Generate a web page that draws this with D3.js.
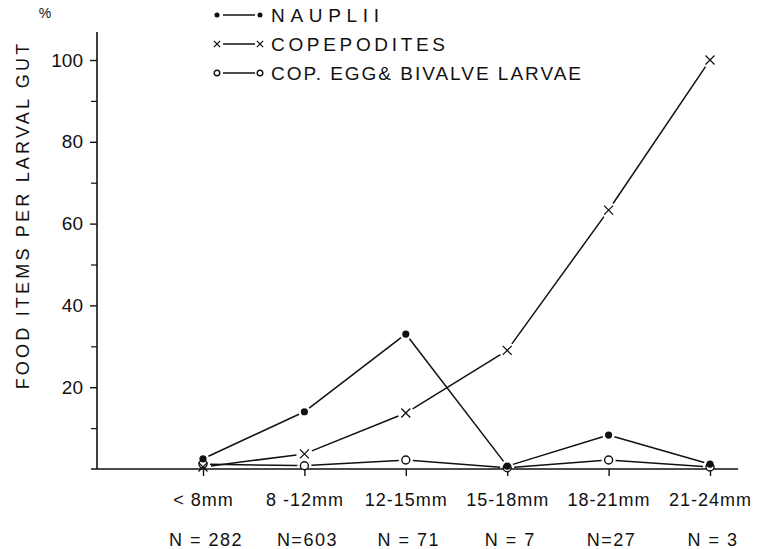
<!DOCTYPE html>
<html>
<head>
<meta charset="utf-8">
<script src="https://cdn.jsdelivr.net/npm/d3@7"></script>
<style>
  html, body { margin: 0; padding: 0; background: #fff; }
  svg { display: block; }
  text { font-family: "Liberation Sans", "DejaVu Sans", sans-serif; fill: #111; }
</style>
</head>
<body>
<svg id="chart" width="770" height="549"></svg>
<script>
// Size classes of the larvae and the number of guts examined in each
const sizeClasses = ["< 8mm", "8 -12mm", "12-15mm", "15-18mm", "18-21mm", "21-24mm"];
const sampleSizes = ["N = 282", "N=603", "N = 71", "N = 7", "N=27", "N = 3"];

// Percentage of food items per larval gut
const nauplii     = [2.5, 14, 33, 0.7, 8.3, 1.2];
const copepodites = [0.5, 3.7, 13.7, 29, 63.3, 100];
const eggBivalve  = [1.2, 0.8, 2.2, 0.3, 2.2, 0.5];

const yMajorTicks = [20, 40, 60, 80, 100];
const yMinorTicks = [10, 30, 50, 70, 90];

const seriesNames = ["NAUPLII", "COPEPODITES", "COP. EGG& BIVALVE LARVAE"];

const svg = d3.select("#chart");
const ink = "#111";

const x = d3.scalePoint().domain(sizeClasses).range([203, 710]);
const y = d3.scaleLinear().domain([0, 100]).range([469, 60]);

// Axes
const axisG = svg.append("g");
axisG.append("line")
  .attr("x1", 97).attr("x2", 97)
  .attr("y1", 32).attr("y2", y(0))
  .attr("stroke", ink).attr("stroke-width", 1.6);
axisG.append("line")
  .attr("x1", 91).attr("x2", 738)
  .attr("y1", y(0)).attr("y2", y(0))
  .attr("stroke", ink).attr("stroke-width", 1.6);

const yAxis = d3.axisLeft(y).tickValues(yMajorTicks).tickSize(7).tickPadding(7);
const yG = svg.append("g").attr("transform", "translate(97,0)").call(yAxis);
yG.select(".domain").remove();
yG.selectAll(".tick line").attr("stroke", ink).attr("stroke-width", 1.4);
yG.selectAll(".tick text")
  .attr("font-family", "Liberation Sans, sans-serif")
  .attr("font-size", 19).attr("fill", ink);

const yMinor = d3.axisLeft(y).tickValues(yMinorTicks).tickSize(6).tickFormat("");
const yMG = svg.append("g").attr("transform", "translate(97,0)").call(yMinor);
yMG.select(".domain").remove();
yMG.selectAll(".tick line").attr("stroke", ink).attr("stroke-width", 1.2);

const xAxis = d3.axisBottom(x).tickSize(7).tickPadding(17);
const xG = svg.append("g").attr("transform", `translate(0,${y(0)})`).call(xAxis);
xG.select(".domain").remove();
xG.selectAll(".tick line").attr("stroke", ink).attr("stroke-width", 1.4);
xG.selectAll(".tick text")
  .attr("font-family", "Liberation Sans, sans-serif")
  .attr("font-size", 18).attr("letter-spacing", 1).attr("fill", ink);

// Sample sizes under each class
svg.append("g").selectAll("text")
  .data(sizeClasses)
  .join("text")
  .attr("x", d => x(d) + 3)
  .attr("y", 546)
  .attr("text-anchor", "middle")
  .attr("font-size", 18)
  .attr("letter-spacing", 1.5)
  .text((d, i) => sampleSizes[i]);

// Axis title and unit
svg.append("text")
  .attr("transform", "translate(29,215) rotate(-90)")
  .attr("text-anchor", "middle")
  .attr("font-size", 18)
  .attr("letter-spacing", 3.2)
  .text("FOOD ITEMS PER LARVAL GUT");
svg.append("text")
  .attr("x", 45).attr("y", 18)
  .attr("text-anchor", "middle")
  .attr("font-size", 14)
  .text("%");

// Markers; scale k shrinks them for the legend
function drawMarker(g, kind, cx, cy, k = 1) {
  if (kind === "dot") {
    g.append("circle").attr("cx", cx).attr("cy", cy).attr("r", 3.6 * k).attr("fill", ink);
  } else if (kind === "ring") {
    g.append("circle").attr("cx", cx).attr("cy", cy).attr("r", 4 * k)
      .attr("fill", "#fff").attr("stroke", ink).attr("stroke-width", 1.4);
  } else {
    const s = 4.5 * k;
    g.append("path")
      .attr("d", `M${cx - s},${cy - s}L${cx + s},${cy + s}M${cx + s},${cy - s}L${cx - s},${cy + s}`)
      .attr("stroke", ink).attr("stroke-width", 1.3).attr("fill", "none");
  }
}

// Connecting segments stop short of each marker
function drawSeries(values, kind, gap) {
  const g = svg.append("g");
  const pts = values.map((v, i) => [x(sizeClasses[i]), y(v)]);
  const segs = d3.pairs(pts);
  g.selectAll("line")
    .data(segs)
    .join("line")
    .each(function ([a, b]) {
      const dx = b[0] - a[0], dy = b[1] - a[1];
      const len = Math.hypot(dx, dy);
      const ux = dx / len, uy = dy / len;
      d3.select(this)
        .attr("x1", a[0] + ux * gap).attr("y1", a[1] + uy * gap)
        .attr("x2", b[0] - ux * gap).attr("y2", b[1] - uy * gap);
    })
    .attr("stroke", ink).attr("stroke-width", 1.5);
  pts.forEach(p => drawMarker(g, kind, p[0], p[1]));
}

drawSeries(eggBivalve, "ring", 7);
drawSeries(copepodites, "cross", 8);
drawSeries(nauplii, "dot", 6);

// Legend
const legend = [
  { name: seriesNames[0], kind: "dot", y: 15, width: 108 },
  { name: seriesNames[1], kind: "cross", y: 44, width: 174 },
  { name: seriesNames[2], kind: "ring", y: 73, width: 310 }
];
const lg = svg.append("g");
legend.forEach(d => {
  lg.append("line")
    .attr("x1", 223).attr("x2", 255)
    .attr("y1", d.y).attr("y2", d.y)
    .attr("stroke", ink).attr("stroke-width", 1.5);
  drawMarker(lg, d.kind, 217, d.y, 0.7);
  drawMarker(lg, d.kind, 260, d.y, 0.7);
  lg.append("text")
    .attr("x", 271).attr("y", d.y + 7)
    .attr("font-size", 19)
    .attr("textLength", d.width)
    .attr("lengthAdjust", "spacing")
    .text(d.name);
});
</script>
</body>
</html>
